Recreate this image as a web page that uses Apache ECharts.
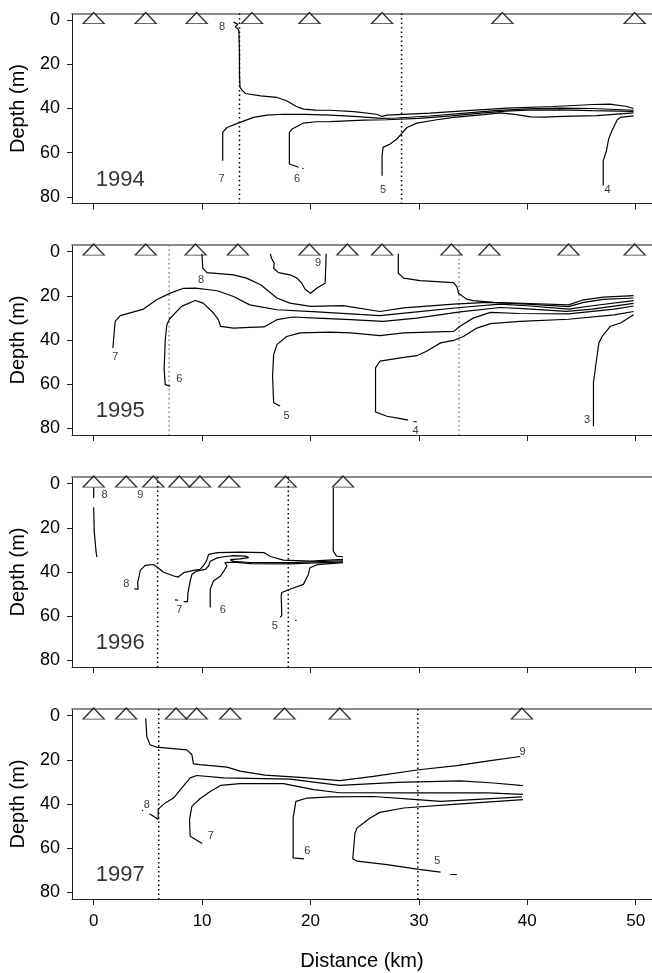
<!DOCTYPE html>
<html>
<head>
<meta charset="utf-8">
<script src="https://cdn.jsdelivr.net/npm/echarts@6/dist/echarts.min.js"></script>
<style>
html, body { margin: 0; padding: 0; background: #fff; }
#main { width: 652px; height: 973px; }
</style>
</head>
<body>
<div id="main"></div>
<script>
// 站位 (km) 和虚线位置
var stations94 = [0, 4.8, 9.5, 14.6, 19.9, 26.6, 37.7, 49.9];
var stations95 = [0, 4.8, 9.4, 13.3, 19.9, 23.4, 26.6, 33.0, 36.5, 43.8, 49.9];
var stations96 = [0, 3.0, 5.5, 7.9, 9.8, 12.5, 17.7, 23.0];
var stations97 = [0, 3.0, 7.6, 9.5, 12.6, 17.6, 22.7, 39.5];
var dotted94 = [13.45, 28.4];
var dotted95 = [6.96, 33.7];
var dotted96 = [5.9, 17.95];
var dotted97 = [6.0, 29.9];
var depthTicks = [0, 20, 40, 60, 80];
var distTicks = [0, 10, 20, 30, 40, 50];

// 1994 等值线 [km, depth]
var c94_8 = [[12.9,0.9],[13.3,1.9],[13.05,3.0],[13.35,4.2],[13.4,5.7],[13.45,15],[13.45,25],[13.5,30.4],[13.7,31.8],[14.0,33.2],[15.4,34.3],[16.9,35.0],[17.8,36.5],[18.7,39.1],[19.35,40.3],[20.5,40.7],[21.8,40.8],[24,41.4],[26.1,42.6],[26.6,43.6],[27.05,43.0],[31.0,42.1],[34.1,41.1],[38.1,39.8],[42.4,39.1],[46.1,38.2],[47.6,38.0],[49.2,39.1],[49.8,40.0]];
var c94_7 = [[11.9,63.6],[11.9,50.8],[12.3,48.6],[13.5,46.3],[14.75,44.0],[16.0,43.0],[17.5,42.6],[19.5,42.7],[21.8,43.0],[24,43.6],[26.6,44.5],[28,44.3],[31,43.4],[34,42.2],[37,41.0],[40,40.2],[43,39.8],[46,40.0],[49.8,40.8]];
var c94_6 = [[18.9,66.6],[18.05,65.1],[18.05,50.8],[18.3,49.3],[19.35,46.6],[20.5,46.0],[21.8,45.9],[24.9,45.3],[27,45.1],[30,44.5],[33,43.3],[36,42.0],[38,41.2],[40,40.7],[43,40.6],[46,41.0],[49.8,41.3]];
var c94_6b = [[19.25,67.0],[19.35,67.3]];
var c94_5 = [[26.6,70.4],[26.6,61.4],[26.7,57.6],[27.35,56.1],[27.97,53.8],[28.9,48.6],[29.8,46.6],[31.5,45.2],[33.2,44.0],[36,42.8],[37.5,42.0],[39,42.8],[40.3,43.8],[41.5,43.9],[43.3,43.6],[46.4,43.2],[49.8,42.0]];
var c94_4 = [[47.0,74.9],[47.0,63.6],[47.3,59.1],[47.5,53.8],[47.8,50.1],[48.3,45.1],[48.6,44.0],[49.8,43.3]];
var labels94 = [[11.85,3.3,'8'],[11.8,71.9,'7'],[18.75,71.9,'6'],[26.7,76.7,'5'],[47.4,76.7,'4']];

// 1995
var c95_9 = [[16.3,1.0],[16.4,3.0],[16.65,5.2],[16.6,7.5],[17.05,9.5],[18.1,10.5],[18.75,12.0],[19.2,14.3],[19.5,17.0],[20.0,18.8],[20.6,16.5],[21.35,14.3],[21.45,1.0]];
var c95_9b = [[28.1,1.0],[28.1,9.8],[28.6,12.0],[30.1,13.1],[33.2,14.0],[33.5,15.8],[33.65,18.8],[34.4,21.5],[35.0,22.2],[36.9,23.0],[40.9,23.6],[43.8,24.1],[45.2,21.8],[47.0,20.6],[49.8,19.9]];
var c95_8 = [[9.98,1.0],[10.07,7.5],[10.45,9.5],[12.9,10.5],[14.1,12.0],[15.4,15.0],[16.9,21.0],[18.1,23.3],[20.0,24.8],[23.0,24.4],[26.4,27.1],[28.6,25.5],[33.2,23.8],[36.3,23.0],[40,23.8],[43.8,24.9],[45.2,23.0],[47,21.6],[49.8,21.0]];
var c95_7 = [[1.77,43.6],[1.98,31.6],[2.45,29.0],[4.6,26.0],[5.8,21.8],[7.06,18.8],[8.3,16.6],[9.4,16.5],[11.4,17.7],[12.9,20.3],[14.4,24.1],[16.9,26.3],[20.6,27.3],[23.7,28.2],[26.4,29.0],[29.8,27.3],[33.8,25.3],[37.5,23.8],[40,24.5],[43.8,26.0],[46,24.5],[49.8,22.2]];
var c95_6 = [[7.06,60.9],[6.6,60.2],[6.5,53.4],[6.6,39.8],[6.75,33.1],[7.0,30.5],[8.1,24.8],[9.36,22.1],[10.1,23.3],[11.05,27.8],[11.5,30.8],[11.7,33.8],[12.9,34.6],[14.4,34.3],[15.7,34.1],[16.9,30.8],[18.4,29.6],[20.6,30.1],[23.7,30.8],[26.7,31.6],[29.8,30.1],[33.8,27.3],[37.5,25.3],[40,25.9],[43.6,27.0],[46,26.0],[49.8,23.4]];
var c95_5 = [[17.2,69.9],[16.6,68.4],[16.5,56.4],[16.6,46.6],[16.9,42.1],[17.8,38.4],[19.05,36.8],[21.8,36.4],[23.7,36.8],[26.4,38.0],[28.6,36.8],[33.2,36.1],[33.8,33.8],[35.0,30.1],[36.6,27.5],[39.3,28.0],[43.8,28.2],[48,26.0],[49.8,24.6]];
var c95_4 = [[29.0,76.3],[28.3,75.6],[27.05,74.5],[26.0,72.6],[26.0,52.6],[26.4,49.6],[28.3,48.1],[29.8,47.1],[30.7,45.1],[32.0,41.3],[33.2,40.2],[34.1,38.4],[35.35,34.6],[36.6,32.6],[39.3,31.6],[43.8,30.6],[48,28.6],[49.8,27.1]];
var c95_4b = [[29.5,77.0],[29.8,77.0]];
var c95_3 = [[46.1,79.0],[46.1,59.4],[46.3,51.9],[46.6,41.3],[46.9,38.4],[47.65,33.8],[48.6,32.3],[49.8,28.6]];
var labels95 = [[2.0,47.8,'7'],[7.9,57.6,'6'],[17.8,74.5,'5'],[9.9,12.8,'8'],[20.7,5.2,'9'],[45.5,76.3,'3'],[29.7,81.2,'4']];

// 1996
var c96_8a = [[0,1.7],[0,6.5]];
var c96_8b = [[0,10.7],[0.05,21.5],[0.23,31.3],[0.3,33.3]];
var c96_8 = [[3.75,47.6],[4.1,47.8],[4.05,44.8],[4.2,41.8],[4.3,39.3],[4.75,37.0],[5.5,36.6],[6.0,38.3],[6.4,40.0],[7.4,41.8],[7.8,42.3],[8.3,40.3],[9.2,39.3],[9.8,38.8],[10.1,37.3],[10.4,35.1],[10.6,32.0],[11.4,31.2],[13.5,31.0],[15.7,31.2],[16.3,33.0],[17.5,34.6],[20,35.1],[23.0,34.3]];
var c96_9 = [[22.1,1.9],[22.1,30.5],[22.4,32.8],[23.0,33.1]];
var c96_7a = [[7.5,52.6],[7.8,52.8]];
var c96_7 = [[8.3,53.4],[8.65,53.4],[8.7,49.3],[8.9,44.1],[9.06,41.1],[9.5,39.6],[10.3,38.8],[10.6,37.3],[10.75,35.1],[11.4,33.6],[12.0,33.1],[12.9,32.6],[14.0,32.8],[14.3,33.5],[13.5,34.1],[12.6,34.4],[12.9,35.2],[14.4,35.7],[18.1,35.8],[23.0,34.9]];
var c96_6 = [[10.75,56.1],[10.75,47.8],[11.05,44.1],[11.7,41.8],[12.0,39.6],[12.3,37.3],[12.1,35.8],[12.9,35.5],[14.5,36.2],[18,36.3],[23.0,35.4]];
var c96_5 = [[17.2,60.6],[17.35,59.6],[17.3,50.9],[17.35,49.3],[18.1,47.8],[19.35,45.6],[19.8,41.1],[19.95,38.1],[20.6,36.7],[23.0,35.8]];
var c96_5b = [[18.6,61.7],[18.7,62.1]];
var labels96 = [[1.0,5.0,'8'],[4.3,5.0,'9'],[3.0,45.3,'8'],[7.9,57.2,'7'],[11.9,57.2,'6'],[16.7,64.4,'5']];

// 1997
var c97_9 = [[4.8,1.2],[4.9,9.5],[5.2,13.2],[5.8,14.3],[8.6,15.5],[9.06,17.7],[9.2,21.8],[9.8,22.2],[12.3,23.3],[13.5,25.1],[15.8,26.9],[19.4,28.1],[22.7,29.4],[25.8,27.5],[30.0,24.5],[33.5,22.6],[36.6,20.4],[39.35,18.5]];
var c97_8 = [[4.45,42.8],[4.55,43.0]];
var c97_8b = [[5.15,44.4],[5.95,46.9],[5.95,42.3],[6.6,39.5],[7.36,37.3],[8.0,33.5],[8.9,28.2],[9.5,27.1],[12.0,28.2],[18.1,28.7],[22.7,31.6],[28.0,30.2],[33.8,29.5],[36.9,30.5],[39.6,31.7]];
var c97_7 = [[10.0,57.9],[8.9,54.6],[8.84,47.1],[9.06,41.1],[9.8,37.6],[10.75,34.3],[11.7,31.6],[13.5,30.8],[17.5,30.8],[20.3,33.5],[22.7,34.9],[29.8,35.0],[36.3,35.0],[39.6,35.6]];
var c97_6 = [[19.4,64.8],[18.4,64.4],[18.4,46.3],[18.65,38.8],[19.7,37.3],[21.8,36.8],[25.8,36.6],[29.8,38.0],[32.0,38.8],[35,38.0],[39.5,36.8]];
var c97_5 = [[32.0,70.8],[30.0,69.6],[27.05,67.4],[24.3,65.9],[23.9,64.8],[24.1,53.1],[24.3,50.8],[24.9,48.6],[25.5,46.3],[26.4,43.8],[28.6,41.8],[33.2,40.2],[39.6,38.0]];
var c97_5b = [[32.9,71.9],[33.5,71.9]];
var labels97 = [[4.9,40.3,'8'],[10.8,54.6,'7'],[19.7,61.4,'6'],[31.7,65.9,'5'],[39.55,16.5,'9']];

var panels = [
  {year: '1994', stations: stations94, dotted: dotted94, dotColor: '#000', labels: labels94,
   lines: [c94_8, c94_7, c94_6, c94_6b, c94_5, c94_4]},
  {year: '1995', stations: stations95, dotted: dotted95, dotColor: '#888', labels: labels95,
   lines: [c95_9, c95_9b, c95_8, c95_7, c95_6, c95_5, c95_4, c95_4b, c95_3]},
  {year: '1996', stations: stations96, dotted: dotted96, dotColor: '#000', labels: labels96,
   lines: [c96_8a, c96_8b, c96_8, c96_9, c96_7a, c96_7, c96_6, c96_5, c96_5b]},
  {year: '1997', stations: stations97, dotted: dotted97, dotColor: '#000', labels: labels97,
   lines: [c97_9, c97_8, c97_8b, c97_7, c97_6, c97_5, c97_5b]}
];

var FONT = 'Liberation Sans, Arial, sans-serif';
var tops = [13.5, 245, 477, 709];
var grids = [], xAxes = [], yAxes = [], series = [];

panels.forEach(function (p, i) {
  grids.push({left: 72, right: 0, top: tops[i], height: 190});

  // 底部 x 轴
  xAxes.push({
    gridIndex: i, type: 'value', min: -2, max: 51.5, position: 'bottom',
    axisLine: {onZero: false, lineStyle: {color: '#222', width: 1}},
    axisTick: {show: true, customValues: distTicks, length: 6, lineStyle: {color: '#222'}},
    axisLabel: {show: i === 3, customValues: distTicks, fontSize: 17, margin: 14, color: '#000', fontFamily: FONT},
    splitLine: {show: false},
    name: i === 3 ? 'Distance (km)' : '',
    nameLocation: 'middle', nameGap: 52,
    nameTextStyle: {fontSize: 20, color: '#000', fontFamily: FONT}
  });
  // 顶部边框
  xAxes.push({
    gridIndex: i, type: 'value', min: -2, max: 51.5, position: 'top',
    axisLine: {onZero: false, lineStyle: {color: '#666', width: 1.5}},
    axisTick: {show: false}, axisLabel: {show: false}, splitLine: {show: false}
  });

  yAxes.push({
    gridIndex: i, type: 'value', inverse: true, min: -3, max: 83,
    axisLine: {show: true, onZero: false, lineStyle: {color: '#222'}},
    axisTick: {show: true, customValues: depthTicks, length: 5, lineStyle: {color: '#222'}},
    axisLabel: {customValues: depthTicks, fontSize: 18, margin: 12, color: '#000', fontFamily: FONT},
    splitLine: {show: false},
    name: 'Depth (m)', nameLocation: 'middle', nameGap: 44, nameRotate: 90,
    nameTextStyle: {fontSize: 20, color: '#000', fontFamily: FONT}
  });

  var xi = i * 2;

  // 虚线
  p.dotted.forEach(function (d) {
    series.push({
      type: 'line', xAxisIndex: xi, yAxisIndex: i, symbol: 'none', silent: true,
      data: [[d, -3], [d, 83]],
      lineStyle: {color: p.dotColor, width: 1.5, type: [1.5, 3]}
    });
  });

  // 等值线
  p.lines.forEach(function (l) {
    series.push({
      type: 'line', xAxisIndex: xi, yAxisIndex: i, symbol: 'none', silent: true,
      data: l, lineStyle: {color: '#000', width: 1.2}
    });
  });

  // 站位三角
  series.push({
    type: 'scatter', xAxisIndex: xi, yAxisIndex: i, silent: true, clip: false,
    symbol: 'triangle', symbolSize: [21, 11],
    itemStyle: {color: '#fff', borderColor: '#000', borderWidth: 1.3},
    data: p.stations.map(function (s) { return [s, -0.9]; })
  });

  // 标注
  var lab = p.labels.map(function (l) { return {value: [l[0], l[1]], name: l[2], fs: 11}; });
  lab.push({value: [2.45, 72.2], name: p.year, fs: 22});
  series.push({
    type: 'scatter', xAxisIndex: xi, yAxisIndex: i, silent: true, symbolSize: 0,
    data: lab.map(function (d) {
      return {value: d.value, name: d.name,
        label: {show: true, position: 'inside', formatter: '{b}', fontSize: d.fs, color: '#000', fontFamily: FONT}};
    })
  });
});

var chart = echarts.init(document.getElementById('main'));
chart.setOption({
  animation: false,
  grid: grids,
  xAxis: xAxes,
  yAxis: yAxes,
  series: series
});
</script>
</body>
</html>
